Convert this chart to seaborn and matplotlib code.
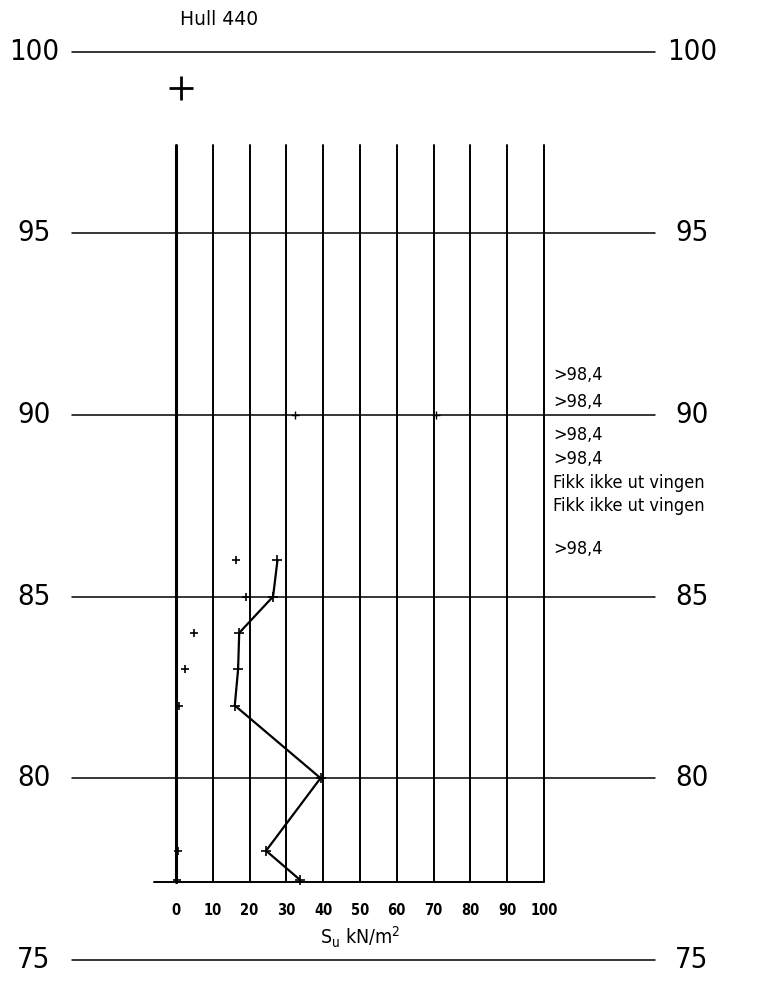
import seaborn as sns
import pandas as pd
import matplotlib.pyplot as plt

# elevation levels (m) and shear strength ticks (kN/m2)
elev_levels = [100, 95, 90, 85, 80, 75]
su_ticks = [0, 10, 20, 30, 40, 50, 60, 70, 80, 90, 100]

# undisturbed vane strength, connected line
elev_undist = [86.0, 85.0, 84.0, 83.0, 82.0, 80.0, 78.0, 77.2]
su_undist = [27.6, 26.4, 17.2, 16.9, 16.0, 39.3, 24.5, 33.7]

# remoulded vane strength, single crosses
elev_remould = [86.0, 85.0, 84.0, 83.0, 82.0, 78.0, 77.2]
su_remould = [16.2, 19.0, 5.0, 2.6, 0.9, 0.6, 0.2]

# two stray readings on the 90 m line
elev_extra = [90.0, 90.0]
su_extra = [32.3, 70.8]

# notes on the right side
note_text = [">98,4", ">98,4", ">98,4", ">98,4",
             "Fikk ikke ut vingen", "Fikk ikke ut vingen", ">98,4"]
note_elev = [91.1, 90.35, 89.45, 88.8, 88.12, 87.5, 86.3]

sns.set_style("white")
plt.rcParams['font.family'] = ['DejaVu Sans']
plt.rcParams['text.color'] = 'black'
plt.rcParams['font.stretch'] = 'condensed'

fig = plt.figure(figsize=(7.57, 9.84), dpi=100)
ax = fig.add_axes([0, 0, 1, 1])
ax.axis('off')

grid_top, grid_bot = 97.45, 77.15

# elevation lines with labels both sides
for e in elev_levels:
    ax.plot([-28.3, 130.2], [e, e], color='black', lw=1.1)
    ax.text(-38.6, e, str(e), ha='center', va='center', fontsize=21,
            stretch='condensed')
    ax.text(140.2, e, str(e), ha='center', va='center', fontsize=21,
            stretch='condensed')

# vertical strength grid
for s in su_ticks:
    ax.plot([s, s], [grid_bot, grid_top], color='black',
            lw=2.2 if s == 0 else 1.4)
    ax.text(s, 76.35, str(s), ha='center', va='center', fontsize=10.5,
            fontweight='bold', stretch='condensed')
ax.plot([-6, 100], [grid_bot, grid_bot], color='black', lw=1.4)

ax.text(50, 75.6, r"S$_{\rm u}$ kN/m$^{\rm 2}$", ha='center', va='center',
        fontsize=14, stretch='condensed')
ax.text(1, 100.88, "Hull 440", ha='left', va='center', fontsize=13.5,
        stretch='normal')

df_u = pd.DataFrame({'su': su_undist, 'elev': elev_undist})
df_r = pd.DataFrame({'su': su_remould, 'elev': elev_remould})
df_x = pd.DataFrame({'su': su_extra, 'elev': elev_extra})

sns.lineplot(data=df_u, x='su', y='elev', sort=False, estimator=None,
             color='black', lw=1.6, marker='+', markersize=7,
             markeredgewidth=1.2, markeredgecolor='black', ax=ax)
sns.scatterplot(data=df_r, x='su', y='elev', marker='+', s=40, color='black',
                linewidth=1.2, ax=ax)
sns.scatterplot(data=df_x, x='su', y='elev', marker='+', s=30, color='black',
                linewidth=1.0, ax=ax)
# borehole marker
ax.plot([1.4], [99.0], marker='+', markersize=17, markeredgewidth=2,
        color='black')

for t, e in zip(note_text, note_elev):
    ax.text(102.5, e, t, ha='left', va='center', fontsize=13,
            stretch='condensed')

ax.set_xlim(-47.8, 157.9)
ax.set_ylim(74.33, 101.43)
fig.savefig("out.png", dpi=100)
